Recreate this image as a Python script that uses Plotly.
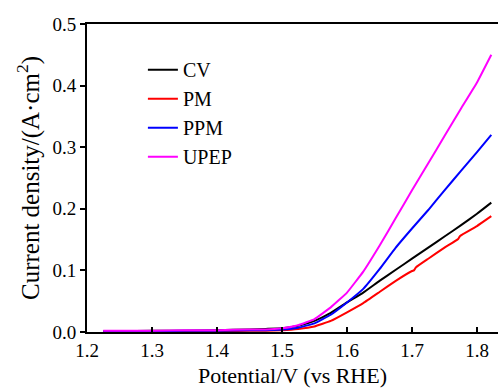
import plotly.graph_objects as go

# Potential (V vs RHE) sample points
potential = [1.225, 1.25, 1.3, 1.35, 1.4, 1.45, 1.475, 1.5, 1.525, 1.55, 1.575,
             1.6, 1.625, 1.65, 1.675, 1.7, 1.725, 1.75, 1.775, 1.8, 1.822]

cv = [0.001, 0.001, 0.002, 0.002, 0.003, 0.004, 0.005, 0.006, 0.010, 0.018, 0.031,
      0.048, 0.064, 0.083, 0.101, 0.119, 0.137, 0.155, 0.173, 0.192, 0.210]

pm_potential = [1.225, 1.25, 1.3, 1.35, 1.4, 1.45, 1.475, 1.5, 1.525, 1.55, 1.575,
                1.6, 1.625, 1.65, 1.675, 1.7, 1.703, 1.706, 1.725, 1.75, 1.771,
                1.774, 1.8, 1.822]
pm = [0.0005, 0.0005, 0.001, 0.001, 0.001, 0.002, 0.002, 0.003, 0.005, 0.009, 0.018,
      0.032, 0.047, 0.065, 0.083, 0.099, 0.100, 0.105, 0.119, 0.137, 0.151,
      0.156, 0.172, 0.188]

ppm = [0.001, 0.001, 0.001, 0.002, 0.002, 0.003, 0.003, 0.004, 0.007, 0.014, 0.028,
       0.048, 0.070, 0.102, 0.137, 0.168, 0.198, 0.230, 0.261, 0.292, 0.320]

upep = [0.002, 0.002, 0.002, 0.003, 0.003, 0.004, 0.004, 0.006, 0.011, 0.021, 0.040,
        0.064, 0.098, 0.140, 0.185, 0.230, 0.274, 0.318, 0.362, 0.405, 0.450]

series = [
    ("CV", potential, cv, "#000000"),
    ("PM", pm_potential, pm, "#ff0000"),
    ("PPM", potential, ppm, "#0000ff"),
    ("UPEP", potential, upep, "#ff00ff"),
]

FONT = "Liberation Serif, Times New Roman, Times, serif"

fig = go.Figure()
for name, xs, ys, color in series:
    fig.add_trace(go.Scatter(
        x=xs, y=ys, name=name, mode="lines", legendgroup=name,
        line=dict(color=color, width=2, shape="spline", smoothing=0.3),
    ))

fig.update_layout(
    width=498, height=388,
    margin=dict(l=87, r=0, t=24, b=56),
    paper_bgcolor="white", plot_bgcolor="white",
    font=dict(family=FONT, color="black", size=19),
    showlegend=True,
    legend=dict(
        x=0.136, y=0.915, xanchor="left", yanchor="top",
        bgcolor="rgba(0,0,0,0)", borderwidth=0,
        font=dict(family=FONT, size=20, color="black"),
        tracegroupgap=0,
    ),
)

fig.update_xaxes(
    range=[1.2, 1.8323],
    tickmode="array", tickvals=[1.2, 1.3, 1.4, 1.5, 1.6, 1.7, 1.8],
    ticktext=["1.2", "1.3", "1.4", "1.5", "1.6", "1.7", "1.8"],
    ticks="inside", ticklen=5, tickwidth=2, tickcolor="black",
    showline=True, linewidth=2, linecolor="black", mirror=True,
    showgrid=False, zeroline=False,
    tickfont=dict(family=FONT, size=19, color="black"),
    title=dict(text="Potential/V (vs RHE)", font=dict(family=FONT, size=22, color="black"), standoff=8),
)
fig.update_yaxes(
    range=[0, 0.5],
    tickmode="array", tickvals=[0.0, 0.1, 0.2, 0.3, 0.4, 0.5],
    ticktext=["0.0", "0.1", "0.2", "0.3", "0.4", "0.5"],
    ticks="outside", ticklen=5, tickwidth=2, tickcolor="black",
    showline=True, linewidth=2, linecolor="black", mirror=False,
    showgrid=False, zeroline=False,
    tickfont=dict(family=FONT, size=19, color="black"),
    title=dict(text="Current density/(A·cm<sup>2</sup>)", font=dict(family=FONT, size=25, color="black"), standoff=6),
)

fig.write_html("out.html")
